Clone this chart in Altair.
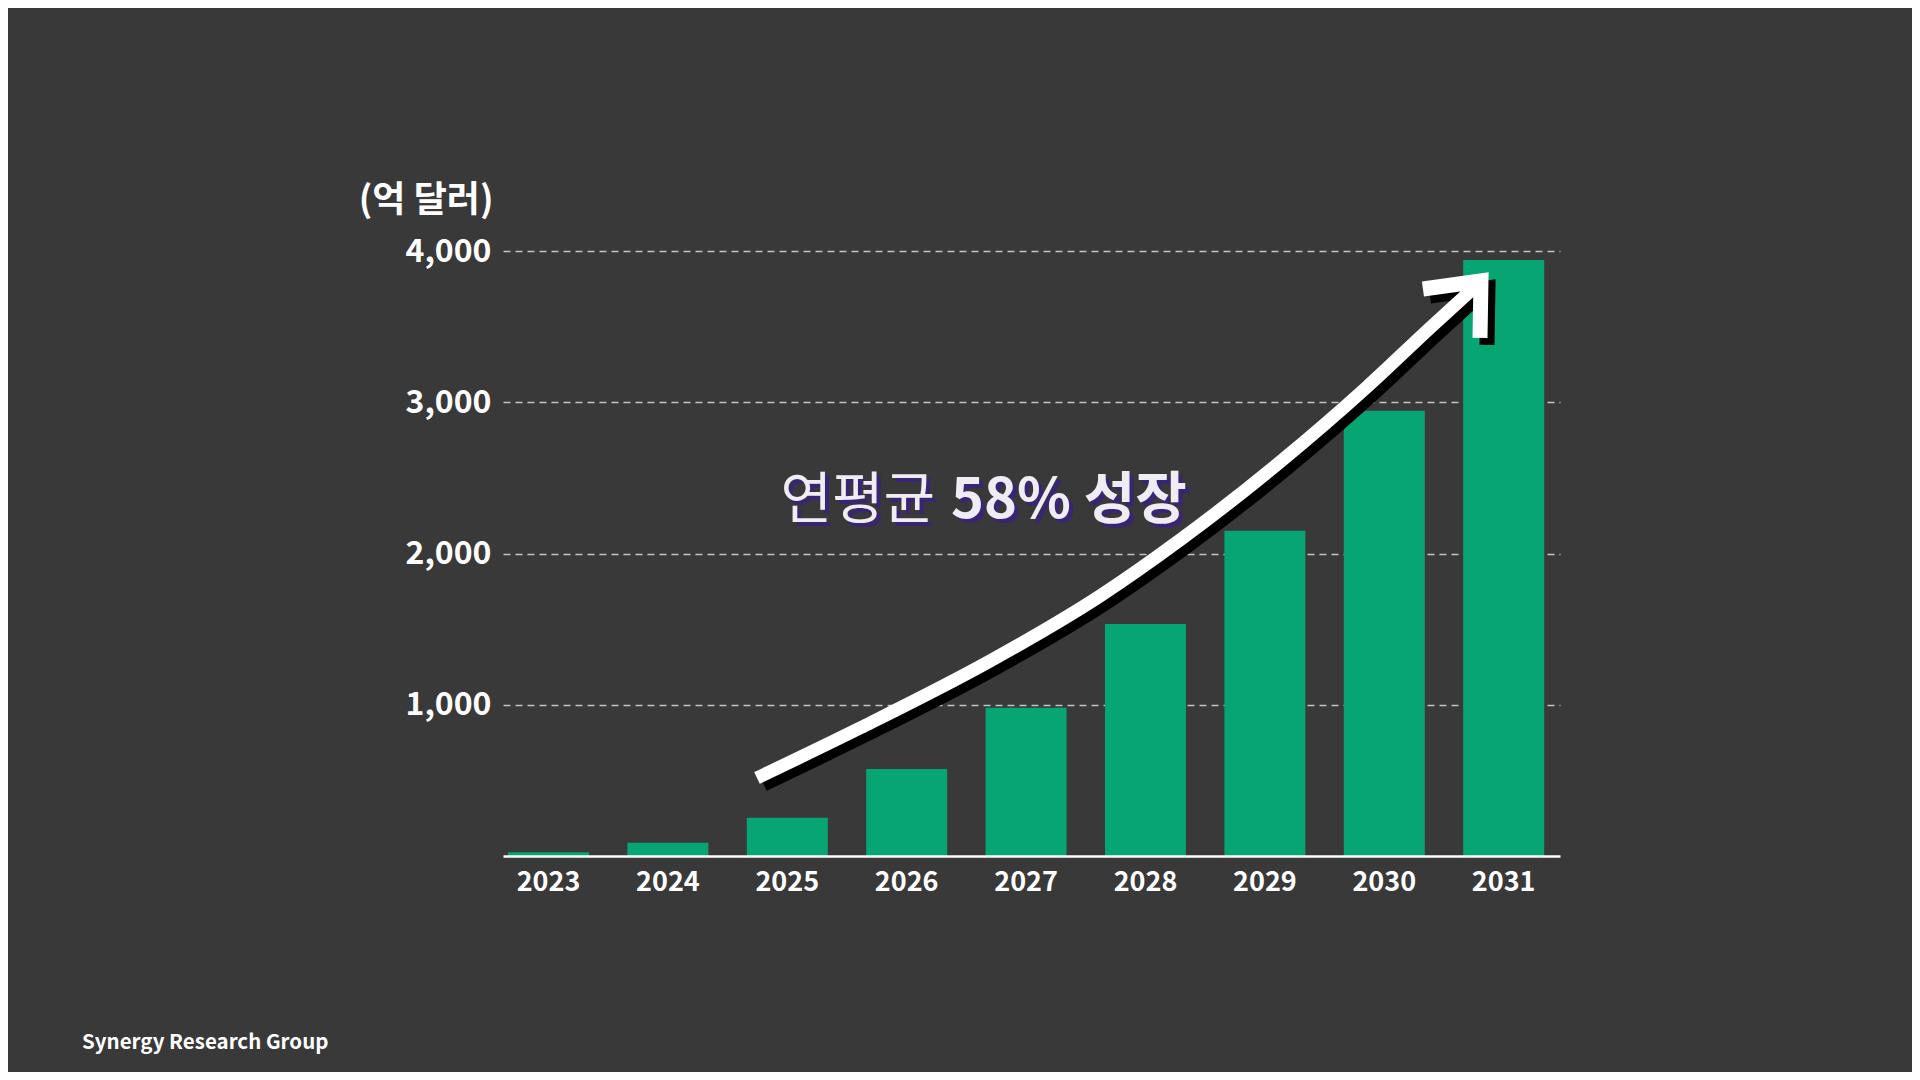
import altair as alt
import pandas as pd

# ---- data ----
years = ["2023", "2024", "2025", "2026", "2027", "2028", "2029", "2030", "2031"]
values = [25, 88, 253, 575, 980, 1534, 2151, 2944, 3940]   # 억 달러

y_ticks = [1000, 2000, 3000, 4000]
unit_label = "(억 달러)"
source_label = "Synergy Research Group"
growth_label_1 = "연평균"
growth_label_2 = "58% 성장"

# growth arrow (x in year units, y in 억 달러)
arrow_x = [2024.746, 2025.609, 2026.698, 2027.619, 2028.289, 2029.127, 2029.855, 2030.383, 2030.768]
arrow_y = [516, 846, 1289, 1719, 2089, 2605, 3101, 3491, 3769]
head_x = [2030.324, 2030.810, 2030.802]
head_y = [3749, 3802, 3425]

FONT = "Noto Sans CJK KR"
BG = "#393939"
GREEN = "#06a573"

df = pd.DataFrame({"year": years, "value": values})
arrow_df = pd.DataFrame({"x": arrow_x, "y": arrow_y, "i": list(range(len(arrow_x)))})
head_df = pd.DataFrame({"x": head_x, "y": head_y, "i": list(range(len(head_x)))})

X_DOMAIN = [2022.619, 2031.472]
Y_DOMAIN = [0, 4000]

bars = alt.Chart(df).mark_bar(color=GREEN).encode(
    x=alt.X(
        "year:O", sort=years, title=None,
        scale=alt.Scale(paddingInner=0.3216, paddingOuter=0.0871, align=0.24),
        axis=alt.Axis(
            labelAngle=0, labelFont=FONT, labelFontSize=27, labelFontWeight="bold",
            labelColor="#ffffff", labelPadding=13, ticks=False, tickSize=0,
            domainColor="#ffffff", domainWidth=2.5, grid=False, zindex=1,
        ),
    ),
    y=alt.Y(
        "value:Q",
        scale=alt.Scale(domain=Y_DOMAIN, nice=False, zero=True),
        axis=alt.Axis(
            values=y_ticks, format=",.0f",
            title=unit_label, titleAngle=0, titleAlign="right", titleBaseline="middle",
            titleX=-10, titleY=-51, titleFont=FONT, titleFontSize=36,
            titleFontWeight="bold", titleColor="#ffffff",
            labelFont=FONT, labelFontSize=32, labelFontWeight="bold",
            labelColor="#ffffff", labelPadding=12, ticks=False, tickSize=0,
            domain=False, grid=True, gridColor="#c4c4c4", gridDash=[7, 5],
            gridWidth=1.5, zindex=0,
        ),
    ),
)


def line_layer(data, color, width, off, interp):
    return alt.Chart(data).mark_line(
        color=color, strokeWidth=width, strokeCap="butt", strokeJoin="miter",
        interpolate=interp, xOffset=off, yOffset=off,
    ).encode(
        x=alt.X("x:Q", scale=alt.Scale(domain=X_DOMAIN, nice=False, zero=False), axis=None),
        y=alt.Y("y:Q", scale=alt.Scale(domain=Y_DOMAIN, nice=False, zero=False), axis=None),
        order="i:Q",
    )


overlay = alt.layer(
    line_layer(arrow_df, "#000000", 13, 7, "monotone"),
    line_layer(head_df, "#000000", 15, 7, "linear"),
    line_layer(arrow_df, "#ffffff", 13, 0, "monotone"),
    line_layer(head_df, "#ffffff", 15, 0, "linear"),
)


def text_layer(txt, x, y, size, weight, color, align, off=0):
    return alt.Chart(pd.DataFrame({"t": [txt]})).mark_text(
        font=FONT, fontSize=size, fontWeight=weight, color=color,
        align=align, baseline="middle", dx=off, dy=off,
    ).encode(x=alt.value(x), y=alt.value(y), text="t:N")


SHADOW = "#3a2475"
TXT = "#efedf3"
texts = [
    text_layer(growth_label_1, 432, 250, 56, "normal", SHADOW, "right", 4),
    text_layer(growth_label_2, 448, 250, 56, "bold", SHADOW, "left", 4),
    text_layer(growth_label_1, 432, 250, 56, "normal", TXT, "right"),
    text_layer(growth_label_2, 448, 250, 56, "bold", TXT, "left"),
    text_layer(source_label, -421, 792, 20.5, "bold", "#ffffff", "left"),
]

chart = alt.layer(bars, overlay, *texts).resolve_scale(
    x="independent", y="independent"
).properties(
    width=1057, height=605,
    autosize=alt.AutoSizeParams(type="none"),
    padding={"left": 495, "top": 243, "right": 352, "bottom": 216},
    background=BG,
).configure_view(stroke=None)

chart.save("out.html", embed_options={"renderer": "svg", "actions": False})
